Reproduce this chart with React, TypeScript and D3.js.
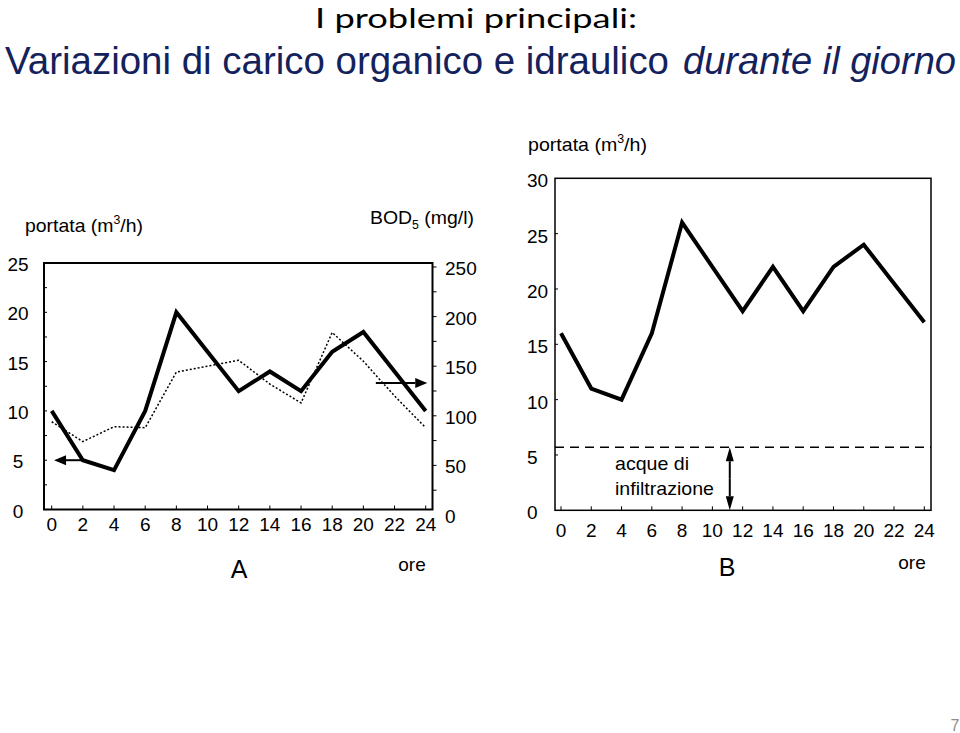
import React from "react";
import * as d3 from "d3";

// ---- Data ----
const hours = [0, 2, 4, 6, 8, 10, 12, 14, 16, 18, 20, 22, 24];
const flowA = [10, 5, 4, 10, 20, 16, 12, 14, 12, 16, 18, 14, 10];
const bodHours = [0, 2, 4, 6, 8, 12, 14, 16, 18, 20, 22, 24];
const bodA = [94, 74, 89, 88, 144, 156, 132, 113, 184, 155, 120, 88];
const flowB = [16, 11, 10, 16, 26, 22, 18, 22, 18, 22, 24, 20.5, 17];
const leftTicksA = [0, 5, 10, 15, 20, 25];
const minorTicksA = [2.5, 5, 7.5, 10, 12.5, 15, 17.5, 20, 22.5];
const rightTicksA = [0, 50, 100, 150, 200, 250];
const rightMinorA = [25, 50, 75, 100, 125, 150, 175, 200, 225, 250];
const leftTicksB = [0, 5, 10, 15, 20, 25, 30];
const infiltration = 5.7;

const FONT = "'Liberation Sans', Arial, sans-serif";

function Arrow({ x1, y1, x2, y2, w = 2, head = 12, hw = 5 }: any) {
  const ang = Math.atan2(y2 - y1, x2 - x1);
  const bx = x2 - head * Math.cos(ang);
  const by = y2 - head * Math.sin(ang);
  const px = -Math.sin(ang) * hw;
  const py = Math.cos(ang) * hw;
  return (
    <g>
      <line x1={x1} y1={y1} x2={bx} y2={by} stroke="#000" strokeWidth={w} />
      <path d={`M${x2},${y2}L${bx + px},${by + py}L${bx - px},${by - py}Z`} fill="#000" />
    </g>
  );
}

export default function App() {
  // Chart A
  const xA = d3.scaleLinear().domain([0, 24]).range([51.7, 425.7]);
  const yA = d3.scaleLinear().domain([0, 25]).range([509.5, 263]);
  const yR = d3.scaleLinear().domain([0, 250]).range([515, 267]);
  const frameA = { l: 44, t: 263, r: 432.5, b: 509.5 };

  // Chart B
  const xB = d3.scaleLinear().domain([0, 24]).range([561, 924.3]);
  const yB = d3.scaleLinear().domain([0, 30]).range([510.3, 178.3]);
  const frameB = { l: 555, t: 178.3, r: 931, b: 510.3 };

  const lineA = d3.line<number>().x((_, i) => xA(hours[i])).y((d) => yA(d));
  const lineBod = d3.line<number>().x((_, i) => xA(bodHours[i])).y((d) => yR(d));
  const lineB = d3.line<number>().x((_, i) => xB(hours[i])).y((d) => yB(d));

  const TS = 19;

  return (
    <svg width={960} height={733} style={{ position: "fixed", left: 0, top: 0, display: "block" }}>
      <rect x={0} y={0} width={960} height={733} fill="#fff" />
      {/* Title */}
      <text x={476} y={27.5} textAnchor="middle" fontFamily="Lato, 'Open Sans', sans-serif" fontSize={27} fill="#000"
        textLength={322} lengthAdjust="spacingAndGlyphs">I problemi principali:</text>
      <text x={5} y={74} fontFamily={FONT} fontSize={38} fill="#14225C" textLength={664} lengthAdjust="spacingAndGlyphs">
        Variazioni di carico organico e idraulico
      </text>
      <text x={683} y={74} fontFamily={FONT} fontSize={38} fontStyle="italic" fill="#14225C" textLength={273} lengthAdjust="spacingAndGlyphs">
        durante il giorno
      </text>

      {/* ---------- Chart A ---------- */}
      <g fontFamily={FONT} fill="#000">
        <text x={25} y={232} fontSize={19} textLength={118} lengthAdjust="spacingAndGlyphs">
          portata (m<tspan fontSize={12} dy={-8}>3</tspan><tspan dy={8}>/h)</tspan>
        </text>
        <text x={370} y={224} fontSize={19} textLength={104} lengthAdjust="spacingAndGlyphs">
          BOD<tspan fontSize={12} dy={5}>5</tspan><tspan dy={-5}> (mg/l)</tspan>
        </text>
        <rect x={frameA.l} y={frameA.t} width={frameA.r - frameA.l} height={frameA.b - frameA.t} fill="none" stroke="#000" strokeWidth={2} />
        {minorTicksA.map((v) => (
          <line key={"ml" + v} x1={frameA.l} x2={frameA.l + 3} y1={yA(v)} y2={yA(v)} stroke="#000" strokeWidth={1} />
        ))}
        {leftTicksA.map((v) => (
          <text key={"lt" + v} x={18} y={yA(v) + 3} fontSize={TS} textAnchor="middle" dominantBaseline="middle">{v}</text>
        ))}
        {rightMinorA.map((v) => (
          <line key={"mr" + v} x1={frameA.r} x2={frameA.r + 4} y1={yR(v)} y2={yR(v)} stroke="#000" strokeWidth={1} />
        ))}
        {rightTicksA.map((v) => (
          <text key={"rt" + v} x={445} y={yR(v) + 3} fontSize={TS} dominantBaseline="middle">{v}</text>
        ))}
        {hours.map((h) => (
          <g key={"xa" + h}>
            <line x1={xA(h)} x2={xA(h)} y1={frameA.b} y2={frameA.b - 4} stroke="#000" strokeWidth={1} />
            <text x={xA(h)} y={526} fontSize={TS} textAnchor="middle" dominantBaseline="middle">{h}</text>
          </g>
        ))}
        <path d={lineBod(bodA) || ""} fill="none" stroke="#000" strokeWidth={1.5} strokeDasharray="2,2" />
        <path d={lineA(flowA) || ""} fill="none" stroke="#000" strokeWidth={4} strokeLinejoin="miter" />
        <Arrow x1={xA(2)} y1={yA(5)} x2={xA(0.15)} y2={yA(5)} />
        <Arrow x1={xA(20.8)} y1={yR(133)} x2={xA(24.1)} y2={yR(133)} />
        <text x={239} y={578} fontSize={25} textAnchor="middle">A</text>
        <text x={412} y={571} fontSize={19} textAnchor="middle">ore</text>
      </g>

      {/* ---------- Chart B ---------- */}
      <g fontFamily={FONT} fill="#000">
        <text x={528} y={151} fontSize={19} textLength={119} lengthAdjust="spacingAndGlyphs">
          portata (m<tspan fontSize={12} dy={-8}>3</tspan><tspan dy={8}>/h)</tspan>
        </text>
        <rect x={frameB.l} y={frameB.t} width={frameB.r - frameB.l} height={frameB.b - frameB.t} fill="none" stroke="#000" strokeWidth={1.5} />
        {leftTicksB.filter((v) => v > 0 && v < 30).map((v) => (
          <line key={"lb" + v} x1={frameB.l} x2={frameB.l + 3} y1={yB(v)} y2={yB(v)} stroke="#000" strokeWidth={1} />
        ))}
        {leftTicksB.map((v) => (
          <text key={"lbt" + v} x={527} y={yB(v) + 4} fontSize={TS} dominantBaseline="middle">{v}</text>
        ))}
        {hours.map((h) => (
          <g key={"xb" + h}>
            <line x1={xB(h)} x2={xB(h)} y1={frameB.b} y2={frameB.b - 4} stroke="#000" strokeWidth={1} />
            <text x={xB(h)} y={532} fontSize={TS} textAnchor="middle" dominantBaseline="middle">{h}</text>
          </g>
        ))}
        <line x1={frameB.l} x2={frameB.r} y1={yB(infiltration)} y2={yB(infiltration)} stroke="#000" strokeWidth={1.5} strokeDasharray="9,6" />
        <path d={lineB(flowB) || ""} fill="none" stroke="#000" strokeWidth={4} />
        <Arrow x1={xB(11.15)} y1={(yB(infiltration) + yB(0)) / 2} x2={xB(11.15)} y2={yB(infiltration)} hw={4} head={14} />
        <Arrow x1={xB(11.15)} y1={(yB(infiltration) + yB(0)) / 2} x2={xB(11.15)} y2={yB(0)} hw={4} head={14} />
        <text x={615} y={470} fontSize={19} textLength={74} lengthAdjust="spacingAndGlyphs">acque di</text>
        <text x={615} y={495} fontSize={19} textLength={99} lengthAdjust="spacingAndGlyphs">infiltrazione</text>
        <text x={727} y={576} fontSize={25} textAnchor="middle">B</text>
        <text x={912} y={569} fontSize={19} textAnchor="middle">ore</text>
      </g>

      <text x={955} y={731} fontFamily={FONT} fontSize={16} fill="#8c8c8c" textAnchor="middle">7</text>
    </svg>
  );
}
